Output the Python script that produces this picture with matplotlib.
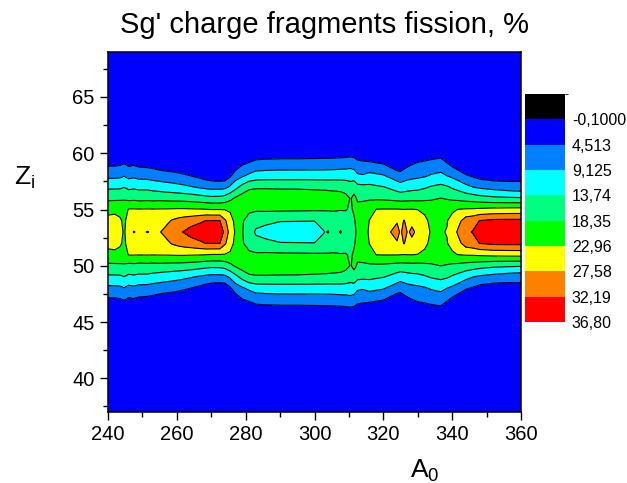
import numpy as np
import matplotlib
matplotlib.use('Agg')
import matplotlib.pyplot as plt
from matplotlib.colors import ListedColormap, BoundaryNorm
from matplotlib.ticker import MultipleLocator

plt.rcParams['font.family'] = ['Liberation Sans', 'DejaVu Sans']
plt.rcParams['mathtext.fontset'] = 'custom'
plt.rcParams['mathtext.rm'] = 'Liberation Sans'
plt.rcParams['mathtext.it'] = 'Liberation Sans:italic'

# mass number of the fissioning Sg isotope
a0 = [240, 242, 243.5, 244.7, 246, 247.5, 249, 251.5, 253, 255,
      256.5, 258.5, 260.5, 262, 264, 266.5, 268.5, 270, 272.5, 274,
      275.5, 277, 279, 281, 283, 286, 290, 295, 300, 302.5,
      303.2, 304, 305.5, 307.6, 309, 310.5, 311.5, 312.5, 314, 316,
      318, 320, 322, 324, 325, 326, 327.2, 328.3, 330, 332,
      334, 336.7, 338.5, 340, 341.5, 344, 346, 348, 352, 356, 360]

# fragment charge yields, %, for Zi = 53 ... 60
# (binary split of Z = 106: fragment 106 - Zi has the same yield)
z53 = [25.5, 25.8, 24.5, 22.3, 26.0, 27.75, 27.0, 27.7, 27.1, 27.3,
       28.7, 29.8, 31.5, 32.4, 33.8, 35.0, 35.8, 36.2, 36.0, 30.5,
       26.0, 22.5, 18.6, 15.5, 13.2, 12.0, 11.8, 11.9, 12.2, 13.5,
       13.85, 13.6, 15.0, 13.5, 15.5, 16.5, 17.6, 19.0, 21.0, 23.5,
       25.6, 26.4, 27.5, 29.0, 27.0, 29.0, 27.1, 28.5, 26.5, 24.5,
       22.5, 22.7, 23.1, 25.0, 27.9, 31.5, 32.4, 34.5, 36.0, 36.4, 36.5]
z54 = [24.3, 24.6, 23.6, 22.0, 25.0, 25.4, 25.3, 25.5, 25.4, 25.5,
       26.0, 27.9, 29.0, 29.6, 30.3, 31.3, 32.3, 32.4, 32.3, 28.2,
       24.8, 21.8, 18.8, 16.6, 15.0, 14.8, 13.9, 13.85, 13.8, 14.8,
       15.0, 15.0, 16.0, 15.5, 16.4, 17.2, 18.0, 19.3, 20.8, 23.1,
       24.9, 25.4, 25.6, 27.2, 25.5, 27.9, 25.6, 26.5, 25.0, 23.8,
       22.0, 22.3, 22.8, 24.2, 25.8, 29.8, 30.6, 32.3, 33.2, 33.3, 33.3]
z55 = [21.6, 21.8, 21.5, 20.6, 23.3, 23.3, 23.2, 23.3, 23.2, 23.3,
       23.3, 23.4, 23.5, 23.5, 23.4, 23.3, 23.1, 22.9, 22.9, 22.8,
       22.3, 20.5, 19.6, 19.2, 19.0, 19.1, 19.1, 19.0, 18.9, 18.8,
       18.8, 18.8, 18.8, 18.6, 18.6, 17.9, 18.8, 19.5, 20.0, 21.5,
       23.1, 23.2, 23.2, 23.2, 23.1, 23.0, 23.1, 23.1, 22.9, 22.2,
       21.0, 21.5, 21.4, 22.3, 23.0, 23.4, 23.5, 23.8, 24.2, 24.4, 24.5]
z56 = [17.4, 17.5, 17.6, 17.9, 17.0, 17.2, 16.9, 17.0, 16.9, 17.0,
       16.85, 16.7, 16.6, 16.45, 16.2, 15.7, 15.2, 14.9, 15.0, 15.7,
       17.3, 18.9, 20.5, 20.7, 20.8, 20.9, 20.8, 20.7, 20.6, 20.5,
       20.5, 20.4, 20.3, 20.1, 19.6, 18.1, 19.5, 17.8, 17.7, 17.7,
       17.6, 17.5, 17.2, 16.9, 16.7, 16.8, 16.9, 17.0, 17.0, 17.3,
       17.8, 18.4, 18.0, 17.5, 17.2, 16.5, 16.1, 15.45, 14.7, 14.4, 14.2]
z57 = [12.9, 12.9, 13.0, 13.6, 12.7, 13.0, 12.6, 12.6, 12.1, 11.6,
       11.2, 10.9, 10.4, 10.05, 9.45, 8.6, 8.0, 7.6, 7.6, 7.9,
       9.8, 12.2, 15.2, 17.6, 17.9, 17.9, 17.8, 17.8, 17.6, 17.5,
       17.5, 17.4, 17.3, 17.1, 16.6, 15.5, 16.5, 15.0, 14.8, 14.7,
       14.3, 13.9, 13.0, 11.75, 11.1, 11.5, 11.95, 12.2, 12.5, 13.2,
       14.1, 14.8, 14.2, 13.2, 12.3, 10.4, 9.1, 8.3, 7.4, 6.6, 6.0]
z58 = [8.0, 8.0, 8.2, 8.9, 7.8, 8.2, 7.6, 7.4, 7.0, 6.7,
       6.4, 6.05, 5.6, 5.2, 4.45, 3.5, 2.4, 2.0, 1.4, 1.7,
       3.9, 6.7, 8.5, 10.0, 11.2, 11.4, 11.5, 11.5, 11.5, 11.5,
       11.5, 11.5, 11.6, 11.7, 11.8, 11.9, 11.5, 9.8, 9.5, 10.5,
       10.0, 9.5, 8.2, 6.7, 6.2, 6.9, 7.5, 7.8, 8.2, 8.65,
       9.6, 10.3, 9.1, 8.2, 7.1, 5.0, 4.0, 2.9, 2.1, 2.4, 3.0]
z59 = [3.9, 3.9, 4.2, 4.8, 3.8, 4.2, 3.6, 3.4, 3.1, 2.3,
       2.0, 1.66, 1.2, 0.6, 0.5, 0.4, 0.3, 0.2, 0.2, 0.2,
       0.5, 1.8, 4.3, 5.2, 6.3, 6.6, 6.8, 6.8, 6.9, 6.9,
       6.9, 7.0, 7.0, 7.2, 7.3, 7.6, 7.2, 6.2, 5.8, 5.7,
       5.2, 4.75, 3.3, 1.8, 1.7, 2.9, 3.8, 4.45, 5.1, 5.5,
       6.05, 6.5, 5.1, 3.6, 2.25, 0.3, 0.2, 0.1, 0.1, 0.2, 0.5]
z60 = [0.6, 0.6, 0.8, 1.2, 0.7, 0.9, 0.7, 0.6, 0.5, 0.3,
       0.25, 0.2, 0.1, 0.0, 0.0, 0.0, 0.0, 0.0, 0.0, 0.0,
       0.0, 0.2, 1.0, 1.3, 2.0, 2.2, 2.3, 2.3, 2.4, 2.5,
       2.5, 2.5, 2.6, 2.7, 2.8, 3.1, 2.8, 2.0, 1.7, 0.9,
       0.5, 0.3, 0.3, 0.1, 0.0, 0.3, 0.5, 0.8, 2.0, 2.3,
       2.6, 3.0, 1.1, 0.5, 0.2, 0.0, 0.0, 0.0, 0.0, 0.0, 0.0]

levels = [-0.1, 4.513, 9.125, 13.74, 18.35, 22.96, 27.58, 32.19, 36.80]
level_labels = ['-0,1000', '4,513', '9,125', '13,74', '18,35',
                '22,96', '27,58', '32,19', '36,80']
fill_colors = ['#0000ff', '#0080ff', '#00ffff', '#00ff80',
               '#00ff00', '#ffff00', '#ff8000', '#ff0000']

# full Zi grid, mirrored around the symmetric split Zi = 53
half = np.array([z53, z54, z55, z56, z57, z58, z59, z60])
zi = np.arange(37, 70)
offset = np.abs(zi - 53)
grid = np.zeros((zi.size, len(a0)))
inside = offset < len(half)
grid[inside] = half[offset[inside]]

W, H = 627, 483
fig = plt.figure(figsize=(W / 100, H / 100), dpi=100)
ax = fig.add_axes([108 / W, 1 - 412 / H, 413 / W, 360 / H])

ax.contourf(a0, zi, grid, levels=levels, colors=fill_colors)
ax.contour(a0, zi, grid, levels=levels[1:], colors='black', linewidths=0.8)

ax.set_xlim(240, 360)
ax.set_ylim(37, 69)
ax.xaxis.set_major_locator(MultipleLocator(20))
ax.xaxis.set_minor_locator(MultipleLocator(10))
ax.yaxis.set_major_locator(MultipleLocator(5))
ax.yaxis.set_minor_locator(MultipleLocator(2.5))
ax.tick_params(which='both', direction='out', top=False, right=False,
               width=1, labelsize=14.5)
ax.tick_params(which='major', length=6)
ax.tick_params(which='minor', length=3.5)
for sp in ax.spines.values():
    sp.set_linewidth(1.1)

fig.text(325 / W, 1 - 25 / H, "Sg' charge fragments fission, %",
         ha='center', va='center', fontsize=21)
fig.text(14 / W, 1 - 185 / H, r'$\mathregular{Z_i}$', ha='left',
         va='baseline', fontsize=19)
fig.text(410 / W, 1 - 478 / H, r'$\mathregular{A_0}$', ha='left',
         va='baseline', fontsize=19)

# colour scale: black block for values below the first level
bar_bounds = [levels[0] - (levels[1] - levels[0])] + levels
bar_cmap = ListedColormap(['black'] + fill_colors)
bar_norm = BoundaryNorm(bar_bounds, bar_cmap.N)
cax = fig.add_axes([525 / W, 1 - 322 / H, 40 / W, 228 / H])
cb = fig.colorbar(plt.cm.ScalarMappable(norm=bar_norm, cmap=bar_cmap),
                  cax=cax, ticks=levels, spacing='uniform')
cb.ax.invert_yaxis()
cb.set_ticklabels(level_labels)
cb.outline.set_visible(False)
cb.ax.tick_params(length=0, labelsize=11.5, pad=5)

fig.savefig('out.png', dpi=100)
